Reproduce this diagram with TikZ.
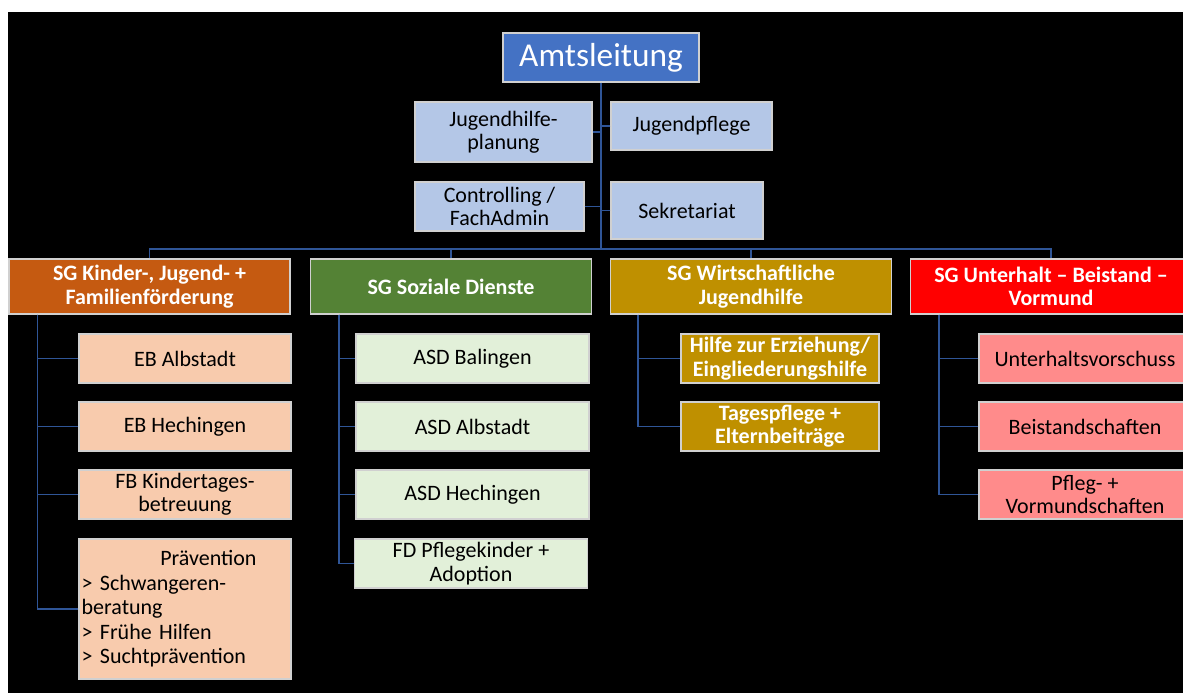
\documentclass[tikz,border=0pt]{standalone}
\usepackage{fontspec}
\setmainfont{Carlito}
\usetikzlibrary{positioning}
\definecolor{amtblue}{HTML}{4472C4}
\definecolor{staffblue}{HTML}{B4C7E7}
\definecolor{kjforange}{HTML}{C55A11}
\definecolor{kjflight}{HTML}{F8CBAD}
\definecolor{sozgreen}{HTML}{548235}
\definecolor{sozlight}{HTML}{E2F0D9}
\definecolor{wjhgold}{HTML}{BF9000}
\definecolor{uhvred}{HTML}{FF0000}
\definecolor{uhvlight}{HTML}{FF8B8B}
\definecolor{linkblue}{HTML}{2F5597}
\definecolor{rimgray}{HTML}{D0D0D0}
\tikzset{
  box/.style={draw=rimgray, line width=0.9pt, inner sep=2pt, align=center, font=\fontsize{16.5}{17.5}\selectfont},
  staff/.style={box, fill=staffblue, text=black},
  sghead/.style={box, text=white, font=\bfseries\fontsize{16.5}{17.5}\selectfont, minimum width=210.75pt, minimum height=41.25pt},
  sub/.style={box, text=black, minimum height=36.75pt},
  orgline/.style={draw=linkblue, line width=1pt}
}

\begin{document}
\begin{tikzpicture}[x=0.75pt, y=-0.75pt]
\useasboundingbox (0,0) rectangle (1183,693);
\clip (0,0) rectangle (1183,693);
\fill [white] (0,0) rectangle (1183,693);
\fill [black] (8,12) rectangle (1183,693);

\node [box, fill=amtblue, text=white, font=\fontsize{25}{28}\selectfont, minimum width=147pt, minimum height=36.75pt] (amt) at (601,57.5) {Amtsleitung};
\node [staff, minimum width=132.75pt, minimum height=45pt] (jhp) at (503.5,132) {Jugendhilfe-\\planung};
\node [staff, minimum width=120.75pt, minimum height=36pt] (jpf) at (691.5,126) {Jugendpflege};
\node [staff, minimum width=126.75pt, minimum height=36.75pt] (ctr) at (499.5,206.5) {Controlling /\\FachAdmin};
\node [staff, minimum width=114pt, minimum height=42.75pt] (sek) at (687,210.5) {Sekretariat};
\coordinate (bus) at (601,249);

\node [sghead, fill=kjforange] (kjf) at (149.5,286.5) {SG Kinder-, Jugend- +\\Familienförderung};
\node [sghead, fill=sozgreen] (soz) at (451,286.5) {SG Soziale Dienste};
\node [sghead, fill=wjhgold] (wjh) at (751,286.5) {SG Wirtschaftliche\\Jugendhilfe};
\node [sghead, fill=uhvred] (uhv) at (1051,286.5) {SG Unterhalt – Beistand –\\Vormund};

\node [sub, fill=kjflight, minimum width=159pt] (eba) at (185,358.5) {EB Albstadt};
\node [sub, fill=kjflight, minimum width=159pt] (ebh) at (185,426.5) {EB Hechingen};
\node [sub, fill=kjflight, minimum width=159pt] (fbk) at (185,494.5) {FB Kindertages-\\betreuung};
\node [sub, fill=kjflight, minimum width=159pt, minimum height=105pt, text width=155pt, align=left, font=\fontsize{16.5}{18.4}\selectfont] (prv) at (185,609) {\hspace*{59pt}Prävention\\> Schwangeren-\\beratung\\> Frühe Hilfen\\> Suchtprävention};

\node [sub, fill=sozlight, minimum width=174.75pt] (asb) at (472.5,358.5) {ASD Balingen};
\node [sub, fill=sozlight, minimum width=174.75pt] (asa) at (472.5,426.5) {ASD Albstadt};
\node [sub, fill=sozlight, minimum width=174.75pt] (ash) at (472.5,494.5) {ASD Hechingen};
\node [sub, fill=sozlight, minimum width=174.75pt] (fdp) at (471,563.5) {FD Pflegekinder +\\Adoption};

\node [sub, fill=wjhgold, text=white, font=\bfseries\fontsize{16.5}{17.5}\selectfont, minimum width=148.5pt] (hze) at (780,358.5) {Hilfe zur Erziehung/\\Eingliederungshilfe};
\node [sub, fill=wjhgold, text=white, font=\bfseries\fontsize{16.5}{17.5}\selectfont, minimum width=148.5pt] (tpe) at (780,426.5) {Tagespflege +\\Elternbeiträge};

\node [sub, fill=uhvlight, minimum width=159pt] (uvs) at (1085,358.5) {Unterhaltsvorschuss};
\node [sub, fill=uhvlight, minimum width=159pt] (bst) at (1085,426.5) {Beistandschaften};
\node [sub, fill=uhvlight, minimum width=159pt] (pvs) at (1085,494.5) {Pfleg- +\\Vormundschaften};

\draw [orgline] (amt.south) -- (bus);
\draw [orgline] (jhp.east) -- (jhp.east -| amt.south);
\draw [orgline] (jpf.west) -- (jpf.west -| amt.south);
\draw [orgline] (ctr.east) -- (ctr.east -| amt.south);
\draw [orgline] (sek.west) -- (sek.west -| amt.south);
\foreach \g in {kjf,soz,wjh,uhv} \draw [orgline] (\g.north) |- (bus);
\foreach \c in {eba,ebh,fbk,prv} \draw [orgline] ([xshift=21.75pt]kjf.south west) |- (\c.west);
\foreach \c in {asb,asa,ash,fdp} \draw [orgline] ([xshift=21.75pt]soz.south west) |- (\c.west);
\foreach \c in {hze,tpe} \draw [orgline] ([xshift=21pt]wjh.south west) |- (\c.west);
\foreach \c in {uvs,bst,pvs} \draw [orgline] ([xshift=21.75pt]uhv.south west) |- (\c.west);
\end{tikzpicture}
\end{document}
